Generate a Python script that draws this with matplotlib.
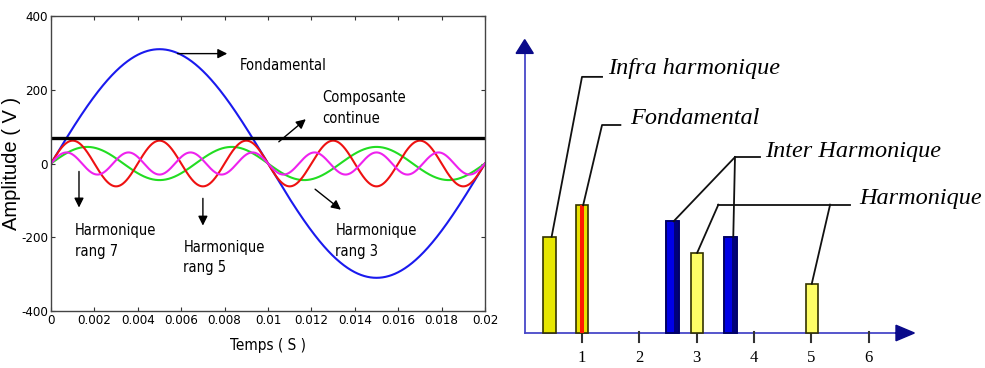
import numpy as np
import matplotlib.pyplot as plt
from matplotlib.patches import FancyArrow

# ---- left panel data: harmonic components (50 Hz network)
f0 = 50.0
t_end = 0.02
ranks = [1, 3, 5, 7]
amplitudes = [310, 45, 62, 30]
colors = ['#1a1aee', '#22dd22', '#ee1111', '#ee22ee']
dc_level = 70

xticks = [0, 0.002, 0.004, 0.006, 0.008, 0.01, 0.012, 0.014, 0.016, 0.018, 0.02]
xtick_labels = ['0', '0.002', '0.004', '0.006', '0.008', '0.01', '0.012',
                '0.014', '0.016', '0.018', '0.02']
yticks = [-400, -200, 0, 200, 400]

# ---- right panel data: spectrum schematic
bar_pos = [0.43, 1.0, 2.58, 3.01, 3.59, 5.01]
bar_height = [1.68, 2.23, 1.95, 1.40, 1.68, 0.86]
bar_kind = ['infra', 'fond', 'inter', 'harm', 'inter', 'harm']
spec_ticks = [1, 2, 3, 4, 5, 6]

narrow = dict(family='DejaVu Sans', stretch='condensed')
serif = ['Liberation Serif', 'DejaVu Serif']

fig = plt.figure(figsize=(9.85, 3.68), dpi=100)

# ================= left: time signals
ax = fig.add_axes([51 / 985, 57 / 368, 434 / 985, 295 / 368])
t = np.linspace(0, t_end, 2000)
for r, a, c in zip(ranks, amplitudes, colors):
    ax.plot(t, a * np.sin(2 * np.pi * r * f0 * t), color=c, lw=1.5)
ax.axhline(dc_level, color='black', lw=2.4)

ax.set_xlim(0, t_end)
ax.set_ylim(-400, 400)
ax.set_xticks(xticks)
ax.set_xticklabels(xtick_labels, fontsize=9.5, **narrow)
ax.set_yticks(yticks)
ax.set_yticklabels([str(v) for v in yticks], fontsize=9.5, **narrow)
ax.tick_params(direction='in', top=True, right=True, length=3, pad=2, color='#333333')
for s in ax.spines.values():
    s.set_color('#444444')
    s.set_linewidth(1.0)
ax.set_xlabel('Temps ( S )', fontsize=11, labelpad=8, **narrow)
ax.set_ylabel('Amplitude ( V )', family=['Liberation Sans', 'DejaVu Sans'],
              fontsize=14.5, labelpad=0)

arr = dict(arrowstyle='-|>', color='black', lw=1.0, mutation_scale=14)
txt = dict(fontsize=10.5, va='center', linespacing=1.45, **narrow)
ax.annotate('', xy=(0.00825, 298), xytext=(0.0057, 298), arrowprops=arr)
ax.text(0.0087, 266, 'Fondamental', **txt)
ax.annotate('', xy=(0.01184, 125), xytext=(0.0104, 54), arrowprops=arr)
ax.text(0.0125, 150, 'Composante\ncontinue', **txt)
ax.annotate('', xy=(0.00129, -127), xytext=(0.00129, -14), arrowprops=arr)
ax.text(0.0011, -210, 'Harmonique\nrang 7', **txt)
ax.annotate('', xy=(0.0070, -176), xytext=(0.0070, -87), arrowprops=arr)
ax.text(0.0061, -255, 'Harmonique\nrang 5', **txt)
ax.annotate('', xy=(0.01346, -130), xytext=(0.01207, -65), arrowprops=arr)
ax.text(0.0131, -210, 'Harmonique\nrang 3', **txt)

# ================= right: spectrum schematic
ax2 = fig.add_axes([500 / 985, 0, 485 / 985, 1])
px = 57.3  # pixels per unit
ax2.set_xlim((500 - 524.7) / px, (985 - 524.7) / px)
ax2.set_ylim(-(368 - 333) / px, 333 / px)
ax2.axis('off')

axis_col = '#4848c8'
head_col = '#0a0a8a'
x_end = 6.5
y_end = 4.9
ax2.plot([0, x_end], [0, 0], color=axis_col, lw=1.3, zorder=1)
ax2.plot([0, 0], [0, y_end], color=axis_col, lw=1.3, zorder=1)
ax2.add_patch(FancyArrow(x_end, 0, 0.3, 0, width=0, head_width=0.27, head_length=0.32,
                         length_includes_head=True, color=head_col, zorder=3))
ax2.add_patch(FancyArrow(0, y_end, 0, 0.22, width=0, head_width=0.3, head_length=0.24,
                         length_includes_head=True, color=head_col, zorder=3))

for k in spec_ticks:
    ax2.plot([k, k], [0.02, -0.16], color='#333333', lw=1.5, zorder=2)
    ax2.text(k, -0.44, str(k), family=serif, fontsize=12, ha='center', va='center')

face = {'infra': '#e6e600', 'fond': '#e8e000', 'inter': '#0000e6', 'harm': '#ffff66'}
edge = {'infra': '#333300', 'fond': '#333300', 'inter': '#000066', 'harm': '#333300'}
for x, h, kind in zip(bar_pos, bar_height, bar_kind):
    w = 0.22 if kind in ('infra', 'inter') else 0.2
    ax2.bar(x, h, width=w, color=face[kind], edgecolor=edge[kind], lw=1.2, zorder=4)
    if kind == 'inter':
        ax2.bar(x + w * 0.3, h, width=w * 0.35, color='#00007a', lw=0, zorder=4)
        ax2.bar(x, h, width=w, color='none', edgecolor=edge[kind], lw=1.2, zorder=5)
    if kind == 'fond':
        ax2.bar(x, h, width=w * 0.4, color='#ff1a00', lw=0, zorder=5)

lead = dict(color='#111111', lw=1.3, zorder=6)
lbl = dict(family=serif, style='italic', fontsize=17.5, va='center')

# Infra harmonique
ax2.plot([bar_pos[0] + 0.04, 1.0, 1.35], [bar_height[0], 4.47, 4.47], **lead)
ax2.text(1.45, 4.61, 'Infra harmonique', **lbl)
# Fondamental
ax2.plot([bar_pos[1] + 0.02, 1.35, 1.67], [bar_height[1], 3.63, 3.63], **lead)
ax2.text(1.84, 3.75, 'Fondamental', **lbl)
# Inter harmonique
hub = (3.67, 3.07)
ax2.plot([bar_pos[2] + 0.02, hub[0]], [bar_height[2], hub[1]], **lead)
ax2.plot([bar_pos[4] + 0.05, hub[0]], [bar_height[4], hub[1]], **lead)
ax2.plot([hub[0], 4.1], [hub[1], hub[1]], **lead)
ax2.text(4.2, 3.16, 'Inter Harmonique', **lbl)
# Harmonique
ax2.plot([bar_pos[3], 3.38], [bar_height[3], 2.24], **lead)
ax2.plot([3.38, 5.68], [2.24, 2.24], **lead)
ax2.plot([bar_pos[5], 5.33], [bar_height[5], 2.24], **lead)
ax2.text(5.84, 2.35, 'Harmonique', **lbl)

fig.savefig('out.png', dpi=100)
